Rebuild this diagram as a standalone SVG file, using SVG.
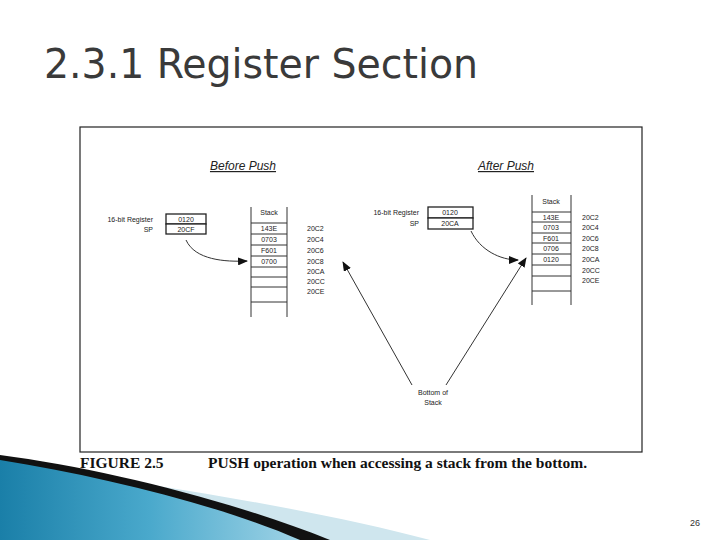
<svg xmlns="http://www.w3.org/2000/svg" width="720" height="540" viewBox="0 0 720 540">
<style>
.s{font-family:"Liberation Sans",Arial,sans-serif;font-size:7px;fill:#222}
.t{font-family:"Liberation Sans",Arial,sans-serif;font-size:12px;font-style:italic;fill:#222;text-decoration:underline}
.c{font-family:"Liberation Serif","Times New Roman",serif;font-size:15.5px;font-weight:bold;fill:#111}
.ln{stroke:#333;stroke-width:1;fill:none}
.bx{stroke:#222;stroke-width:1.3;fill:#fff}
</style>
<defs>
<marker id="ah" markerWidth="10" markerHeight="8" refX="9" refY="4" orient="auto" markerUnits="userSpaceOnUse"><path d="M0,0 L10,4 L0,8 Z" fill="#111"/></marker>
<linearGradient id="g1" x1="0" y1="0" x2="1" y2="0"><stop offset="0" stop-color="#1a7fa8"/><stop offset="0.5" stop-color="#4aa9cc"/><stop offset="1" stop-color="#9fd3e6"/></linearGradient>
</defs>
<rect width="720" height="540" fill="#fff"/>
<text x="44" y="78" font-family="'DejaVu Sans Condensed','DejaVu Sans',sans-serif" font-size="40" fill="#3a3a3a" textLength="434" lengthAdjust="spacingAndGlyphs">2.3.1 Register Section</text>
<g id="swoosh">
<path d="M0,462 C120,480 300,505 430,540 L0,540 Z" fill="#cfe6ee"/>
<path d="M0,455 C100,468 230,500 330,540 L0,540 Z" fill="#111"/>
<path d="M0,460 C100,476 220,505 300,540 L0,540 Z" fill="url(#g1)"/>
</g>
<rect x="80" y="127" width="562" height="325" fill="#fff" stroke="#222" stroke-width="1.2"/>
<g id="before">
<text x="243" y="170" class="t" text-anchor="middle">Before Push</text>
<g id="reg1">
<text x="153" y="222" class="s" text-anchor="end">16-bit Register</text>
<text x="153" y="232" class="s" text-anchor="end">SP</text>
<rect x="166" y="214" width="40" height="10" class="bx"/><rect x="166" y="224" width="40" height="10" class="bx"/>
<text x="186" y="222" class="s" text-anchor="middle">0120</text>
<text x="186" y="232" class="s" text-anchor="middle">20CF</text>
</g>
<g id="stack1">
<path class="ln" d="M251,207V317M287,207V317M251,223H287M251,234H287M251,245H287M251,256H287M251,267H287M251,277H287M251,287H287M251,302H287"/>
<text x="269" y="215" class="s" text-anchor="middle">Stack</text>
<text x="269" y="231" class="s" text-anchor="middle">143E</text>
<text x="269" y="242" class="s" text-anchor="middle">0703</text>
<text x="269" y="253" class="s" text-anchor="middle">F601</text>
<text x="269" y="264" class="s" text-anchor="middle">0700</text>
<text x="307" y="231" class="s">20C2</text><text x="307" y="242" class="s">20C4</text><text x="307" y="253" class="s">20C6</text><text x="307" y="264" class="s">20C8</text><text x="307" y="274" class="s">20CA</text><text x="307" y="284" class="s">20CC</text><text x="307" y="294" class="s">20CE</text>
</g>
</g>
<g id="after">
<text x="506" y="170" class="t" text-anchor="middle">After Push</text>
<g id="reg2">
<text x="419" y="215" class="s" text-anchor="end">16-bit Register</text>
<text x="419" y="226" class="s" text-anchor="end">SP</text>
<rect x="428" y="207" width="45" height="11" class="bx"/><rect x="428" y="218" width="45" height="11" class="bx"/>
<text x="450" y="215" class="s" text-anchor="middle">0120</text>
<text x="450" y="226" class="s" text-anchor="middle">20CA</text>
</g>
<g id="stack2">
<path class="ln" d="M532,195V305M571,195V305M532,212H571M532,222H571M532,233H571M532,243H571M532,254H571M532,265H571M532,276H571M532,291H571"/>
<text x="551" y="204" class="s" text-anchor="middle">Stack</text>
<text x="551" y="220" class="s" text-anchor="middle">143E</text>
<text x="551" y="230" class="s" text-anchor="middle">0703</text>
<text x="551" y="241" class="s" text-anchor="middle">F601</text>
<text x="551" y="251" class="s" text-anchor="middle">0706</text>
<text x="551" y="262" class="s" text-anchor="middle">0120</text>
<text x="582" y="220" class="s">20C2</text><text x="582" y="230" class="s">20C4</text><text x="582" y="241" class="s">20C6</text><text x="582" y="251" class="s">20C8</text><text x="582" y="262" class="s">20CA</text><text x="582" y="273" class="s">20CC</text><text x="582" y="283" class="s">20CE</text>
</g>
</g>
<g id="bottom">
<text x="433" y="395" class="s" text-anchor="middle">Bottom of</text>
<text x="433" y="405" class="s" text-anchor="middle">Stack</text>
</g>
<g id="connectors">
<path class="ln" d="M186,240 C195,260 225,262 247,261" marker-end="url(#ah)"/>
<path class="ln" d="M471,231 C480,250 500,260 518,260" marker-end="url(#ah)"/>
<path class="ln" d="M412,385 L343,262" marker-end="url(#ah)"/>
<path class="ln" d="M446,385 L526,258" marker-end="url(#ah)"/>
</g>
<text x="80" y="468" class="c">FIGURE 2.5</text>
<text x="208" y="468" class="c">PUSH operation when accessing a stack from the bottom.</text>
<text x="700" y="526" font-family="'Liberation Sans',Arial,sans-serif" font-size="9" fill="#333" text-anchor="end">26</text>
</svg>
